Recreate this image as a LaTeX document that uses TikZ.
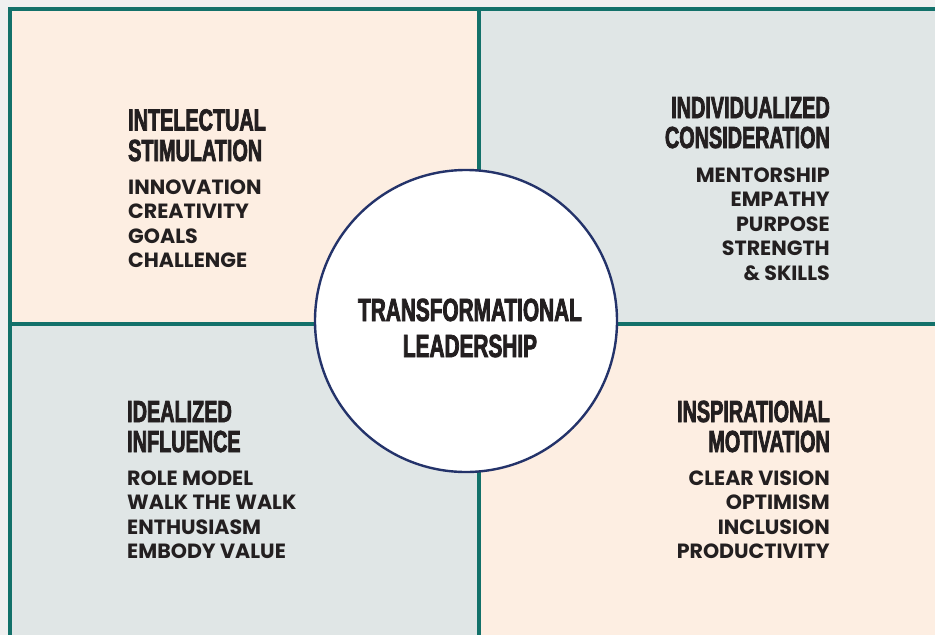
\documentclass[tikz,border=0pt]{standalone}
\usepackage{fontspec}
\newfontfamily\headfont[FakeStretch=0.65,FakeBold=2.4]{Liberation Sans Bold}
\newfontfamily\itemfont{Poppins}
\definecolor{pagebg}{HTML}{F0F0F0}
\definecolor{peach}{HTML}{FDEEE2}
\definecolor{mist}{HTML}{E0E6E6}
\definecolor{teal}{HTML}{13716A}
\definecolor{navy}{HTML}{24336A}
\definecolor{ink}{HTML}{231F20}
\tikzset{
  heading/.style={inner sep=0pt, text=ink, font=\headfont\fontsize{30.5}{31}\selectfont},
  centretext/.style={inner sep=0pt, text=ink, font=\headfont\fontsize{32}{33}\selectfont, anchor=base},
  item/.style={inner sep=0pt, text=ink, font=\itemfont\bfseries\fontsize{20.6}{21}\selectfont},
  rule/.style={draw=teal, line width=3.2pt},
}
\begin{document}
\begin{tikzpicture}[x=1pt, y=-1pt]
  \useasboundingbox (0,0) rectangle (935,635);
  \fill[pagebg] (0,0) rectangle (935,635);
  % quadrant fills
  \fill[peach] (10,9) rectangle (479,324);
  \fill[mist]  (479,9) rectangle (935,324);
  \fill[mist]  (10,324) rectangle (479,635);
  \fill[peach] (479,324) rectangle (935,635);
  % frame and dividers
  \draw[rule] (935,9) -- (10,9) -- (10,635);
  \draw[rule] (479,9) -- (479,635);
  \draw[rule] (10,324) -- (935,324);
  % central circle
  \node[circle, draw=navy, line width=2.4pt, fill=white, minimum size=302pt, inner sep=0pt] (core) at (466,321) {};
  \node[centretext] (core-1) at (470,321) {TRANSFORMATIONAL};
  \node[centretext] (core-2) at (470,357) {LEADERSHIP};

  % top left: intellectual stimulation
  \node[heading, anchor=base west] (tl-h1) at (128,130.5) {INTELECTUAL};
  \node[heading, anchor=base west] (tl-h2) at (128,161) {STIMULATION};
  \foreach \t [count=\k] in {INNOVATION,CREATIVITY,GOALS,CHALLENGE}
    \node[item, anchor=base west] (tl-i\k) at (128,{194+24.6*(\k-1)}) {\t};

  % top right: individualized consideration
  \node[heading, anchor=base east] (tr-h1) at (830,118) {INDIVIDUALIZED};
  \node[heading, anchor=base east] (tr-h2) at (830,148) {CONSIDERATION};
  \foreach \t [count=\k] in {MENTORSHIP,EMPATHY,PURPOSE,STRENGTH,\& SKILLS}
    \node[item, anchor=base east] (tr-i\k) at (830,{182+24.6*(\k-1)}) {\t};

  % bottom left: idealized influence
  \node[heading, anchor=base west] (bl-h1) at (127,422) {IDEALIZED};
  \node[heading, anchor=base west] (bl-h2) at (127,452) {INFLUENCE};
  \foreach \t [count=\k] in {ROLE MODEL,WALK THE WALK,ENTHUSIASM,EMBODY VALUE}
    \node[item, anchor=base west] (bl-i\k) at (127,{485+24.5*(\k-1)}) {\t};

  % bottom right: inspirational motivation
  \node[heading, anchor=base east] (br-h1) at (830,422) {INSPIRATIONAL};
  \node[heading, anchor=base east] (br-h2) at (830,452) {MOTIVATION};
  \foreach \t [count=\k] in {CLEAR VISION,OPTIMISM,INCLUSION,PRODUCTIVITY}
    \node[item, anchor=base east] (br-i\k) at (830,{485+24.5*(\k-1)}) {\t};
\end{tikzpicture}
\end{document}
